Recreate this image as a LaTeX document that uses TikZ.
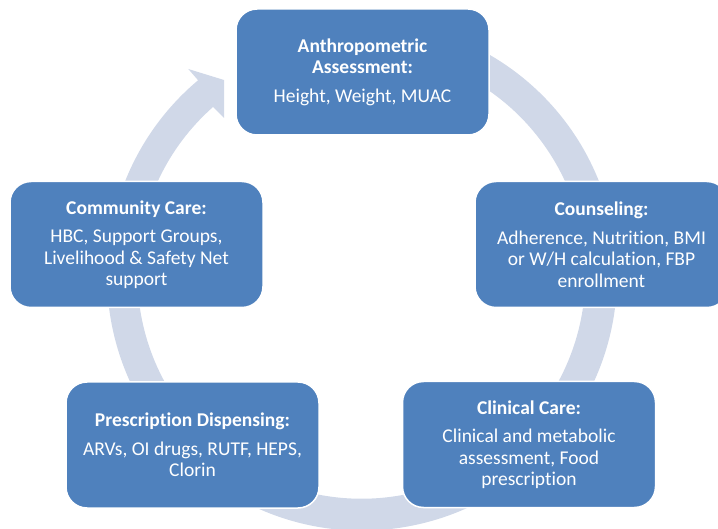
\documentclass[tikz,border=0pt]{standalone}
\usepackage{fontspec}
\setmainfont{Carlito}[Ligatures=NoCommon]
\definecolor{boxblue}{HTML}{4F81BD}
\definecolor{ringblue}{HTML}{D0D8E8}
\begin{document}
\begin{tikzpicture}[x=1pt,y=1pt,
  stage/.style={rectangle, rounded corners=21pt, fill=boxblue, draw=white,
    line width=1.5pt, minimum width=253pt, minimum height=126pt,
    inner sep=0pt, text=white, align=center,
    font=\fontsize{19.5}{21.5}\selectfont},
  ring/.style={fill=ringblue}]
\useasboundingbox (0,0) rectangle (718,-529);
\clip (0,0) rectangle (718,-529);

% circular arrow running clockwise behind the stages
\begin{scope}[shift={(362,-275.6)}]
  \fill[ring] (100:255) arc[start angle=100, end angle=-230, radius=255]
    -- (-173.7,206.6) -- (-138,195.6) -- (-138,157.6) -- (-149,168.6)
    arc[start angle=-228.5, end angle=100, radius=224] -- cycle;
\end{scope}

% stages of the care cycle
\node[stage] (anthro) at (362.5,-72)
  {\textbf{Anthropometric}\\\textbf{Assessment:}\\[7pt]Height, Weight, MUAC};
\node[stage] (counsel) at (601.5,-244.5)
  {\textbf{Counseling:}\\[7pt]Adherence, Nutrition, BMI\\or W/H calculation, FBP\\enrollment};
\node[stage] (clinical) at (529,-444.5)
  {\textbf{Clinical Care:}\\[7pt]Clinical and metabolic\\assessment, Food\\prescription};
\node[stage] (dispense) at (192.5,-445)
  {\textbf{Prescription Dispensing:}\\[7pt]ARVs, OI drugs, RUTF, HEPS,\\Clorin};
\node[stage] (community) at (136.5,-244.5)
  {\textbf{Community Care:}\\[7pt]HBC, Support Groups,\\Livelihood \& Safety Net\\support};
\end{tikzpicture}
\end{document}
